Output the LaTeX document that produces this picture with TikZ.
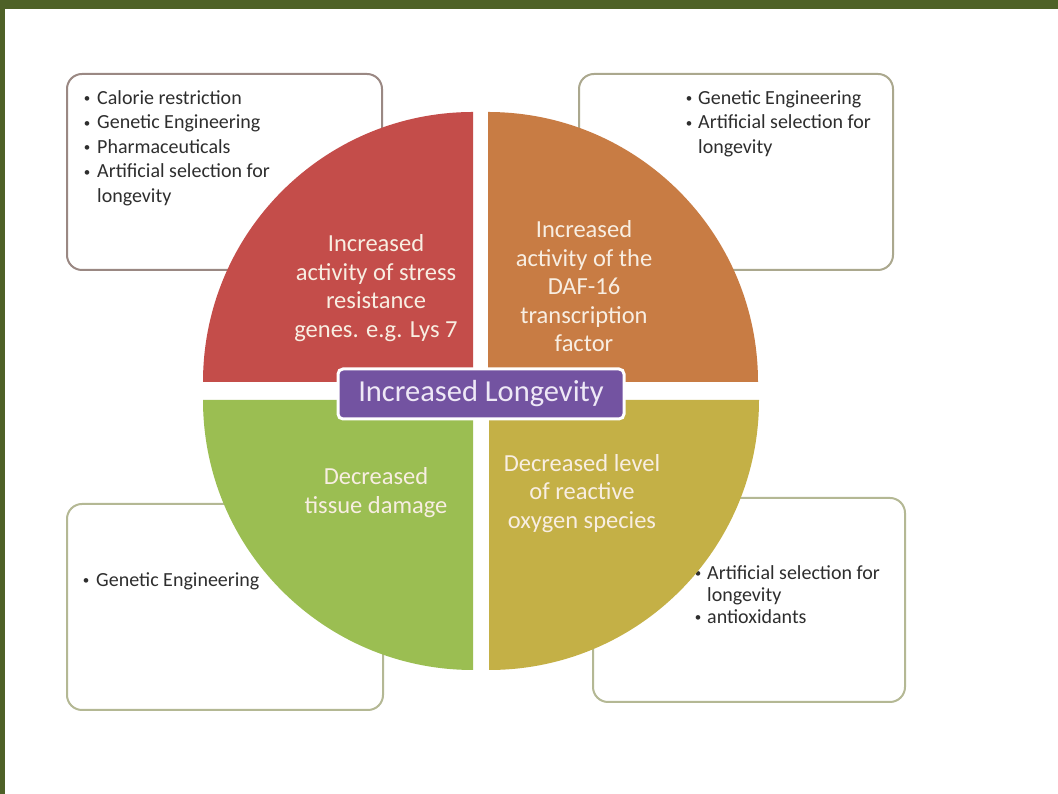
\documentclass[tikz,border=0pt]{standalone}
\usepackage{fontspec}
\setmainfont{Carlito}
\definecolor{frame}{HTML}{4E6127}
\definecolor{qred}{HTML}{C44D4A}
\definecolor{qorange}{HTML}{C87C44}
\definecolor{qgreen}{HTML}{9BBE52}
\definecolor{qyellow}{HTML}{C4B046}
\definecolor{purp}{HTML}{7353A1}
\definecolor{cream}{HTML}{F8EEE2}
\definecolor{lav}{HTML}{EEE8F6}
\definecolor{bordA}{HTML}{9A8883}
\definecolor{bordB}{HTML}{ABA88E}
\definecolor{bordC}{HTML}{B4B894}
\definecolor{txt}{HTML}{2E2E2E}
\tikzset{
  listbox/.style={draw, line width=2pt, rounded corners=15pt, fill=white, inner sep=0pt},
  listtext/.style={anchor=north west, inner sep=0pt, text=txt},
  quadtext/.style={align=center, text=cream, inner sep=0pt, font=\fontsize{24.5}{28.5}\selectfont},
  centerlabel/.style={draw=white, line width=3pt, fill=purp, rounded corners=5pt, text=lav,
    minimum width=286pt, minimum height=50pt, inner sep=0pt, font=\fontsize{30.5}{35}\selectfont}
}
\newcommand{\bl}{\makebox[10pt][c]{\raisebox{1.8pt}{\scalebox{0.65}{\textbullet}}}}
\begin{document}
\begin{tikzpicture}[x=1pt,y=1pt]
\useasboundingbox (0,0) rectangle (1058,794);
\fill[white] (0,0) rectangle (1058,794);
\fill[frame] (0,785) rectangle (1058,794);
\fill[frame] (0,0) rectangle (5,794);

% boxes
\node[listbox, draw=bordA, minimum width=315pt, minimum height=196pt] (tlbox) at (224.5,622) {};
\node[listbox, draw=bordB, minimum width=314pt, minimum height=196pt] (trbox) at (736,622) {};
\node[listbox, draw=bordC, minimum width=316pt, minimum height=206pt] (blbox) at (225,187) {};
\node[listbox, draw=bordC, minimum width=312pt, minimum height=204pt] (brbox) at (749,194) {};

% box texts
\node[listtext, font=\fontsize{20}{24.5}\selectfont] (tltext) at (82,707) {%
\begin{tabular}{@{}l@{\hspace{5pt}}l@{}}
\bl & Calorie restriction\\
\bl & Genetic Engineering\\
\bl & Pharmaceuticals\\
\bl & Artificial selection for\\
    & longevity
\end{tabular}};
\node[listtext, font=\fontsize{20}{24.5}\selectfont] (trtext) at (684,707) {%
\begin{tabular}{@{}l@{\hspace{4pt}}l@{}}
\bl & Genetic Engineering\\
\bl & Artificial selection for\\
    & longevity
\end{tabular}};
\node[listtext, font=\fontsize{20}{24.5}\selectfont] (bltext) at (81,225) {%
\begin{tabular}{@{}l@{\hspace{5pt}}l@{}}
\bl & Genetic Engineering
\end{tabular}};
\node[listtext, font=\fontsize{20}{22}\selectfont] (brtext) at (693,230.5) {%
\begin{tabular}{@{}l@{\hspace{4pt}}l@{}}
\bl & Artificial selection for\\
    & longevity\\
\bl & antioxidants
\end{tabular}};

% pie quadrants
\fill[qred] (473,412) -- ++(-270,0) arc[start angle=180, end angle=90, radius=270] -- cycle;
\fill[qorange] (488,412) -- ++(0,270) arc[start angle=90, end angle=0, radius=270] -- cycle;
\fill[qgreen] (473,394) -- ++(-270,0) arc[start angle=180, end angle=270, radius=270] -- cycle;
\fill[qyellow] (489,394) -- ++(0,-270) arc[start angle=270, end angle=360, radius=270] -- cycle;

% quadrant texts
\node[quadtext] (qr) at (376,506) {Increased\\activity of stress\\resistance\\genes. e.g. Lys 7};
\node[quadtext] (qo) at (584,507.5) {Increased\\activity of the\\DAF-16\\transcription\\factor};
\node[quadtext] (qg) at (376,301.5) {Decreased\\tissue damage};
\node[quadtext] (qy) at (582,300.5) {Decreased level\\of reactive\\oxygen species};

% center label
\node[centerlabel] (center) at (481,400) {Increased Longevity};
\end{tikzpicture}
\end{document}
